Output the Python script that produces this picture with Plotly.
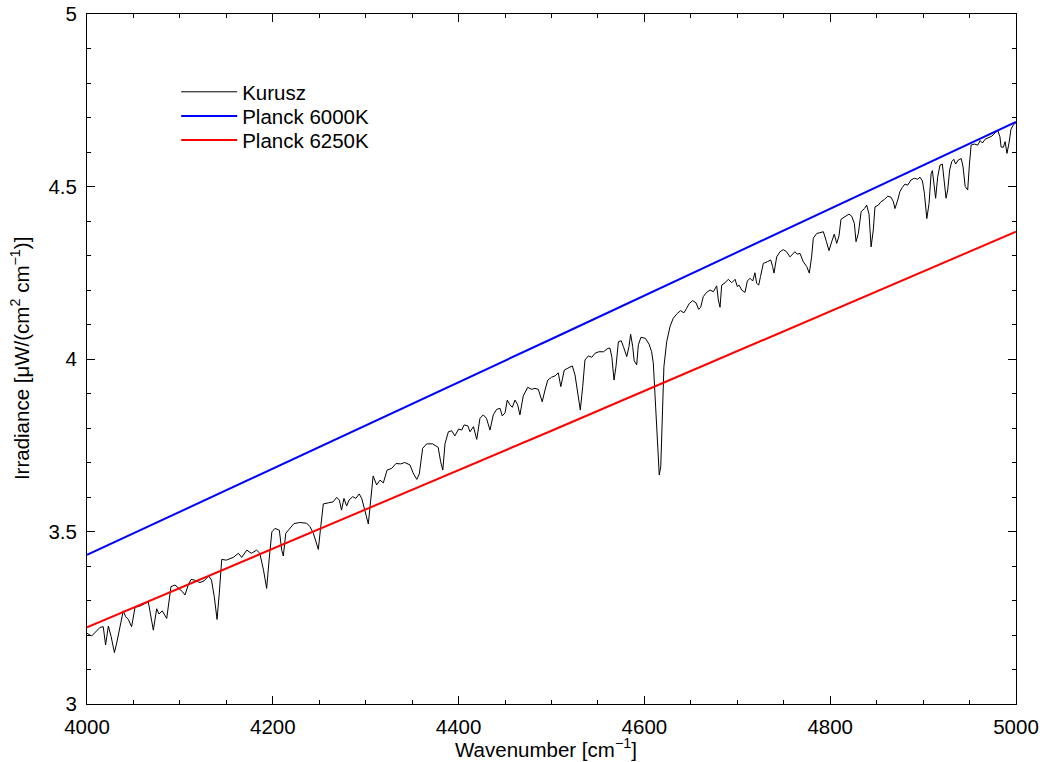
import plotly.graph_objects as go

# Kurusz solar spectrum
kurusz_wn = [
    4000, 4005, 4014, 4017.5, 4020, 4023, 4026, 4029.5, 4032, 4036.6, 4039, 4041.6, 4044.5, 4048,
    4051.7, 4057, 4066, 4071.4, 4075, 4077.5, 4081, 4085.8, 4090.4, 4094.7, 4098, 4102.6, 4105.5,
    4109, 4112, 4116, 4121.6, 4126, 4131, 4134, 4137, 4140, 4142.4, 4145, 4150, 4157.5, 4163,
    4166.5, 4172, 4177, 4182.6, 4186, 4190, 4193.4, 4196, 4199, 4202.4, 4207, 4209.6, 4211.3,
    4214, 4218.5, 4222.8, 4229, 4236.5, 4240, 4243.6, 4246.5, 4249, 4251.6, 4254.4, 4259.7, 4265,
    4268.8, 4271.6, 4274, 4276.6, 4279.5, 4282, 4286, 4289.5, 4293, 4295.7, 4299, 4302.8, 4305.4,
    4308, 4311.8, 4315.4, 4319, 4323, 4328, 4332.6, 4337.7, 4342, 4347.7, 4351, 4355, 4357.7,
    4361.3, 4365.6, 4372, 4378, 4380.7, 4383, 4385.4, 4389, 4392.6, 4396, 4400, 4403.4, 4406,
    4410, 4412.3, 4416, 4419.5, 4423, 4426.6, 4430, 4433.8, 4437.3, 4441, 4444.6, 4447, 4450,
    4452.4, 4455.3, 4457.8, 4460.7, 4463.6, 4466, 4469.6, 4474.4, 4478.7, 4482.2, 4485.8, 4488.7,
    4490, 4493, 4496, 4500, 4503.8, 4507.3, 4510, 4513.8, 4518, 4522.4, 4525.3, 4528, 4531,
    4533.6, 4536, 4539.7, 4543.4, 4547, 4551, 4556, 4560.7, 4563, 4565, 4567.3, 4569.4, 4572,
    4575, 4577.4, 4581, 4583.4, 4585.2, 4587.4, 4589, 4591.7, 4593.5, 4596.3, 4601, 4605, 4607.8,
    4609.6, 4611.4, 4613.2, 4615, 4616, 4617.6, 4619, 4621, 4624, 4627.6, 4631, 4635.4, 4639,
    4642.6, 4645.5, 4648.3, 4652, 4655.5, 4658.4, 4660.6, 4663.4, 4667, 4670.6, 4674.2, 4677.8,
    4679.6, 4681.4, 4683.2, 4686.8, 4690.3, 4694, 4697.6, 4700, 4702, 4704.7, 4708.3, 4710.8,
    4713.7, 4716.6, 4719, 4720.8, 4723, 4725, 4728, 4732.3, 4736, 4738, 4739.5, 4742.4, 4746,
    4749.5, 4753, 4756.7, 4759.6, 4762, 4764.5, 4767.5, 4771, 4774.7, 4777.5, 4780, 4781.8,
    4785.5, 4789, 4792.6, 4796, 4798.7, 4801.6, 4804.4, 4807, 4809.5, 4811.6, 4816, 4820.2,
    4823.1, 4826, 4827.8, 4830.3, 4833.3, 4836.8, 4839.3, 4841.8, 4844, 4846.4, 4848.2, 4851.8,
    4854.7, 4858.2, 4861.9, 4865.4, 4868, 4869.7, 4872.7, 4875, 4877.6, 4880.5, 4883.4, 4887,
    4890.6, 4894.2, 4896.7, 4899.3, 4901.4, 4904, 4906.4, 4908.6, 4910, 4911.7, 4913.5, 4915.7,
    4918.2, 4920.7, 4922.9, 4924.7, 4926.5, 4928.6, 4930.8, 4933, 4935, 4938, 4941, 4943, 4945.3,
    4948, 4949.8, 4951.7, 4955.3, 4958.9, 4961.4, 4963.9, 4966.8, 4970.4, 4974, 4977.6, 4980.5,
    4982.7, 4984, 4986.4, 4988.3, 4990.3, 4992.5, 4994.6, 4997, 5000,
]
kurusz_irr = [
    3.205, 3.197, 3.222, 3.224, 3.171, 3.226, 3.195, 3.149, 3.177, 3.243, 3.270, 3.253, 3.245, 3.224,
    3.280, 3.284, 3.296, 3.214, 3.276, 3.261, 3.270, 3.248, 3.340, 3.345, 3.338, 3.326, 3.316,
    3.345, 3.361, 3.359, 3.352, 3.357, 3.371, 3.359, 3.311, 3.245, 3.321, 3.419, 3.417, 3.425, 3.437,
    3.425, 3.446, 3.437, 3.446, 3.437, 3.388, 3.335, 3.417, 3.499, 3.509, 3.504, 3.446, 3.429,
    3.495, 3.509, 3.523, 3.526, 3.524, 3.514, 3.495, 3.470, 3.448, 3.514, 3.580, 3.583, 3.586,
    3.599, 3.591, 3.562, 3.596, 3.574, 3.591, 3.601, 3.596, 3.609, 3.596, 3.562, 3.522, 3.591,
    3.661, 3.635, 3.649, 3.641, 3.678, 3.683, 3.697, 3.696, 3.700, 3.693, 3.670, 3.651, 3.667,
    3.741, 3.754, 3.754, 3.744, 3.702, 3.678, 3.755, 3.789, 3.792, 3.777, 3.797, 3.794, 3.809,
    3.806, 3.789, 3.804, 3.767, 3.828, 3.838, 3.828, 3.794, 3.838, 3.854, 3.857, 3.835, 3.844,
    3.881, 3.867, 3.860, 3.881, 3.867, 3.838, 3.893, 3.918, 3.912, 3.915, 3.912, 3.886,
    3.876, 3.910, 3.939, 3.947, 3.951, 3.960, 3.920, 3.968, 3.973, 3.980, 3.954, 3.901, 3.852,
    3.920, 3.997, 4.009, 4.005, 4.017, 4.021, 4.021, 4.031, 4.031, 4.005, 3.939, 3.978, 4.050,
    4.053, 4.036, 4.007, 4.036, 4.072, 4.036, 3.995, 3.983, 4.041, 4.063, 4.060, 4.043, 4.021,
    3.988, 3.901, 3.785, 3.688, 3.664, 3.688, 3.823, 3.978, 4.050, 4.094, 4.118, 4.132, 4.140,
    4.134, 4.147, 4.161, 4.169, 4.163, 4.144, 4.150, 4.181, 4.193, 4.200, 4.195, 4.212,
    4.171, 4.150, 4.214, 4.221, 4.231, 4.221, 4.231, 4.210, 4.214, 4.200, 4.193, 4.226,
    4.234, 4.226, 4.250, 4.220, 4.214, 4.239, 4.277, 4.282, 4.287, 4.268, 4.249, 4.296, 4.311,
    4.317, 4.311, 4.296, 4.306, 4.311, 4.304, 4.306, 4.282, 4.268, 4.249, 4.296, 4.350,
    4.364, 4.366, 4.369, 4.340, 4.314, 4.340, 4.362, 4.335, 4.357, 4.405, 4.414, 4.420,
    4.414, 4.393, 4.340, 4.364, 4.427, 4.436, 4.446, 4.420, 4.325, 4.374, 4.441, 4.446,
    4.456, 4.462, 4.472, 4.469, 4.456, 4.436, 4.461, 4.485, 4.497, 4.507, 4.504, 4.519,
    4.524, 4.521, 4.527, 4.516, 4.480, 4.407, 4.451, 4.537, 4.546, 4.500, 4.466, 4.528,
    4.562, 4.565, 4.514, 4.466, 4.490, 4.548, 4.572, 4.579, 4.565, 4.577, 4.581, 4.557, 4.500,
    4.490, 4.562, 4.620, 4.623, 4.620, 4.633, 4.626, 4.637, 4.642, 4.646, 4.656, 4.662,
    4.644, 4.614, 4.614, 4.630, 4.596, 4.626, 4.666, 4.678, 4.685,
]

# Planck curves
planck_wn = [4000, 4500, 5000]
planck_6000 = [3.432, 4.058, 4.687]
planck_6250 = [3.222, 3.792, 4.369]

# Tick labels
x_ticks = [4000, 4200, 4400, 4600, 4800, 5000]
y_ticks = [3, 3.5, 4, 4.5, 5]
y_tick_text = ["3", "3.5", "4", "4.5", "5"]

FONT = "Liberation Sans, Arial, Helvetica, sans-serif"
FS = 20.5

fig = go.Figure()
fig.add_trace(go.Scatter(x=kurusz_wn, y=kurusz_irr, mode="lines", name="Kurusz",
                         line=dict(color="black", width=1), legend="legend"))
fig.add_trace(go.Scatter(x=planck_wn, y=planck_6000, mode="lines", name="Planck 6000K",
                         line=dict(color="#0000ff", width=2), legend="legend2"))
fig.add_trace(go.Scatter(x=planck_wn, y=planck_6250, mode="lines", name="Planck 6250K",
                         line=dict(color="#ff0000", width=2), legend="legend3"))

axis_common = dict(
    showgrid=False, zeroline=False, showline=True, linecolor="black", linewidth=1,
    mirror="ticks", ticks="inside", ticklen=8, tickcolor="black", tickwidth=1,
    tickfont=dict(family=FONT, size=FS, color="black"), automargin=False,
    ticklabeloverflow="allow",
)


def legend_box(ypos):
    return dict(x=0.096, y=ypos, xanchor="left", yanchor="top",
                bgcolor="rgba(0,0,0,0)", font=dict(family=FONT, size=FS, color="black"),
                tracegroupgap=0, itemwidth=56)


fig.update_layout(
    width=1043, height=762,
    margin=dict(l=87, r=27, t=14, b=58),
    paper_bgcolor="white", plot_bgcolor="white",
    font=dict(family=FONT, size=FS, color="black"),
    showlegend=True,
    legend=legend_box(0.916),
    legend2=legend_box(0.881),
    legend3=legend_box(0.846),
    xaxis=dict(range=[4000, 5000], tickmode="array", tickvals=x_ticks,
               ticktext=[str(v) for v in x_ticks],
               minor=dict(ticks="inside", dtick=50, ticklen=4, tickcolor="black"),
               ticklabelstandoff=4,
               **axis_common),
    yaxis=dict(range=[3, 5], tickmode="array", tickvals=y_ticks, ticktext=y_tick_text,
               minor=dict(ticks="inside", dtick=0.1, ticklen=4, tickcolor="black"),
               ticklabelstandoff=5,
               **axis_common),
    annotations=[
        dict(text="Wavenumber [cm<sup>−1</sup>]", xref="paper", yref="paper",
             x=0.494, y=-0.0638, xanchor="center", yanchor="middle", showarrow=False,
             font=dict(family=FONT, size=FS, color="black")),
        dict(text="Irradiance [μW/(cm<sup>2</sup> cm<sup>−1</sup>)]", xref="paper", yref="paper",
             x=-0.072, y=0.5, xanchor="center", yanchor="middle", textangle=-90,
             showarrow=False, font=dict(family=FONT, size=FS, color="black")),
    ],
)

# remove the default 8px page margin so the 1043x762 figure fills the window exactly
fig.write_html("out.html",
               config={"displayModeBar": False},
               post_script="document.body.style.margin='0';document.body.style.overflow='hidden';")
